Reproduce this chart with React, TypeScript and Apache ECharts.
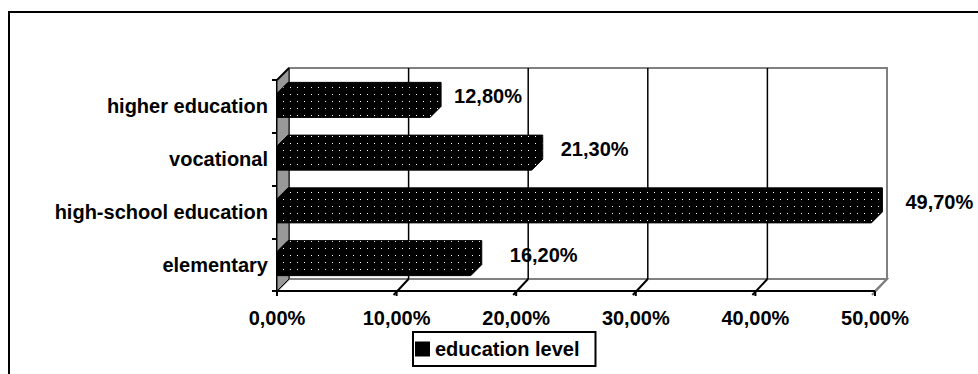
import React, { useEffect, useRef } from "react";
import * as echarts from "echarts";

const categories = ["elementary", "high-school education", "vocational", "higher education"];
const values = [16.2, 49.7, 21.3, 12.8];
const xTickValues = [0, 10, 20, 30, 40, 50];
const seriesName = "education level";

const FONT = "'Liberation Sans', Arial, sans-serif";
const FS = 20;
const D = 12;

const fmt = (v: number) => v.toFixed(2).replace(".", ",") + "%";

export default function App() {
  const ref = useRef<HTMLDivElement>(null);
  useEffect(() => {
    if (!ref.current) return;
    const chart = echarts.init(ref.current, null, { renderer: "svg" });

    const tile = document.createElement("canvas");
    tile.width = 7;
    tile.height = 7;
    const ctx = tile.getContext("2d")!;
    ctx.fillStyle = "#000";
    ctx.fillRect(0, 0, 7, 7);
    ctx.fillStyle = "#ffffff";
    ctx.fillRect(3, 3, 1, 1);
    const pattern: any = { image: tile, repeat: "repeat", imageWidth: 7, imageHeight: 7 };

    const frameItem = (params: any, api: any) => {
      const cs = params.coordSys;
      const x0 = cs.x, y0 = cs.y, x1 = cs.x + cs.width, y1 = cs.y + cs.height;
      const children: any[] = [];
      children.push({
        type: "rect",
        shape: { x: x0 + D, y: y0 - D, width: cs.width, height: cs.height },
        style: { fill: "#fff", stroke: "#808080", lineWidth: 2 },
      });
      children.push({
        type: "polygon",
        shape: { points: [[x0, y1], [x0 + D, y1 - D], [x1 + D, y1 - D], [x1, y1]] },
        style: { fill: "#fff", stroke: "#808080", lineWidth: 2 },
      });
      children.push({
        type: "polygon",
        shape: { points: [[x0, y0], [x0 + D, y0 - D], [x0 + D, y1 - D], [x0, y1]] },
        style: { fill: "#999", stroke: "#000", lineWidth: 1 },
      });
      children.push({
        type: "line",
        shape: { x1: x0, y1: y0, x2: x0 + D, y2: y0 - D },
        style: { stroke: "#000", lineWidth: 2 },
      });
      xTickValues.forEach((t) => {
        const x = api.coord([t, 0])[0];
        if (t > 0 && t < 50) {
          children.push({
            type: "line",
            shape: { x1: x + D, y1: y0 - D, x2: x + D, y2: y1 - D },
            style: { stroke: "#000", lineWidth: 1.5 },
          });
        }
        if (t > 0) {
          children.push({
            type: "line",
            shape: { x1: x - 3, y1: y1 + 4, x2: x + D, y2: y1 - D },
            style: { stroke: t < 50 ? "#000" : "#808080", lineWidth: 2 },
          });
        }
        children.push({
          type: "line",
          shape: { x1: x, y1: y1, x2: x, y2: y1 + 5 },
          style: { stroke: "#000", lineWidth: 2 },
        });
      });
      children.push({
        type: "line",
        shape: { x1: x0 - 2, y1: y1, x2: x1, y2: y1 },
        style: { stroke: "#000", lineWidth: 2 },
      });
      return { type: "group", children };
    };

    const barItem = (params: any, api: any) => {
      const idx = api.value(1);
      const v = api.value(0);
      const start = api.coord([0, idx]);
      const end = api.coord([v, idx]);
      const band = api.size([0, 1])[1];
      const h = band * 0.455;
      const yc = end[1] - 1;
      const yt = yc - h / 2;
      const yb = yc + h / 2;
      const xa = start[0];
      const xb = end[0];
      const bd = D - 1;
      const gap = 12 + 5 * (categories.length - 1 - idx);
      return {
        type: "group",
        children: [
          {
            type: "polygon",
            shape: {
              points: [
                [xa, yb],
                [xa, yt],
                [xa + bd, yt - bd],
                [xb + bd, yt - bd],
                [xb + bd, yb - bd],
                [xb, yb],
              ],
            },
            style: { fill: pattern, stroke: "#000", lineWidth: 1 },
          },
          {
            type: "text",
            x: xb + D + gap,
            y: yc - 9,
            style: {
              text: fmt(v),
              fill: "#000",
              font: `bold ${FS}px ${FONT}`,
              textAlign: "left",
              textVerticalAlign: "middle",
            },
          },
        ],
      };
    };

    chart.setOption({
      animation: false,
      backgroundColor: "#fff",
      grid: { left: 277, right: 103, top: 80, bottom: 83, containLabel: false },
      xAxis: {
        type: "value",
        min: 0,
        max: 50,
        interval: 10,
        axisLine: { show: false },
        axisTick: { show: false },
        splitLine: { show: false },
        axisLabel: {
          formatter: (v: number) => fmt(v),
          fontFamily: FONT,
          fontWeight: "bold",
          fontSize: FS,
          color: "#000",
          margin: 17,
        },
      },
      yAxis: {
        type: "category",
        data: categories,
        axisLine: { show: true, lineStyle: { color: "#000", width: 2 } },
        axisTick: { show: true, length: 5, lineStyle: { color: "#000", width: 2 } },
        splitLine: { show: false },
        axisLabel: {
          fontFamily: FONT,
          fontWeight: "bold",
          fontSize: FS,
          color: "#000",
          margin: 9,
        },
      },
      legend: {
        show: true,
        data: [seriesName],
        left: 413,
        top: 332,
        orient: "horizontal",
        icon: "rect",
        itemWidth: 15,
        itemHeight: 15,
        itemGap: 5,
        padding: [7, 16, 7, 2],
        borderColor: "#000",
        borderWidth: 2,
        backgroundColor: "#fff",
        textStyle: { fontFamily: FONT, fontWeight: "bold", fontSize: FS, color: "#000", lineHeight: 20 },
        selectedMode: false,
      },
      graphic: [
        {
          type: "rect",
          shape: { x: 9, y: 12, width: 1100, height: 500 },
          style: { fill: "none", stroke: "#000", lineWidth: 2 },
          z: -10,
          silent: true,
        },
      ],
      series: [
        {
          type: "custom",
          name: "frame",
          renderItem: frameItem,
          data: [[0, 0]],
          z: 1,
          silent: true,
          clip: false,
        },
        {
          type: "custom",
          name: seriesName,
          renderItem: barItem,
          itemStyle: { color: "#000" },
          data: values.map((v, i) => [v, i]),
          z: 3,
          clip: false,
        },
      ],
    });

    return () => chart.dispose();
  }, []);

  return (
    <div
      ref={ref}
      style={{ position: "fixed", left: 0, top: 0, width: 978, height: 374, background: "#fff" }}
    />
  );
}
